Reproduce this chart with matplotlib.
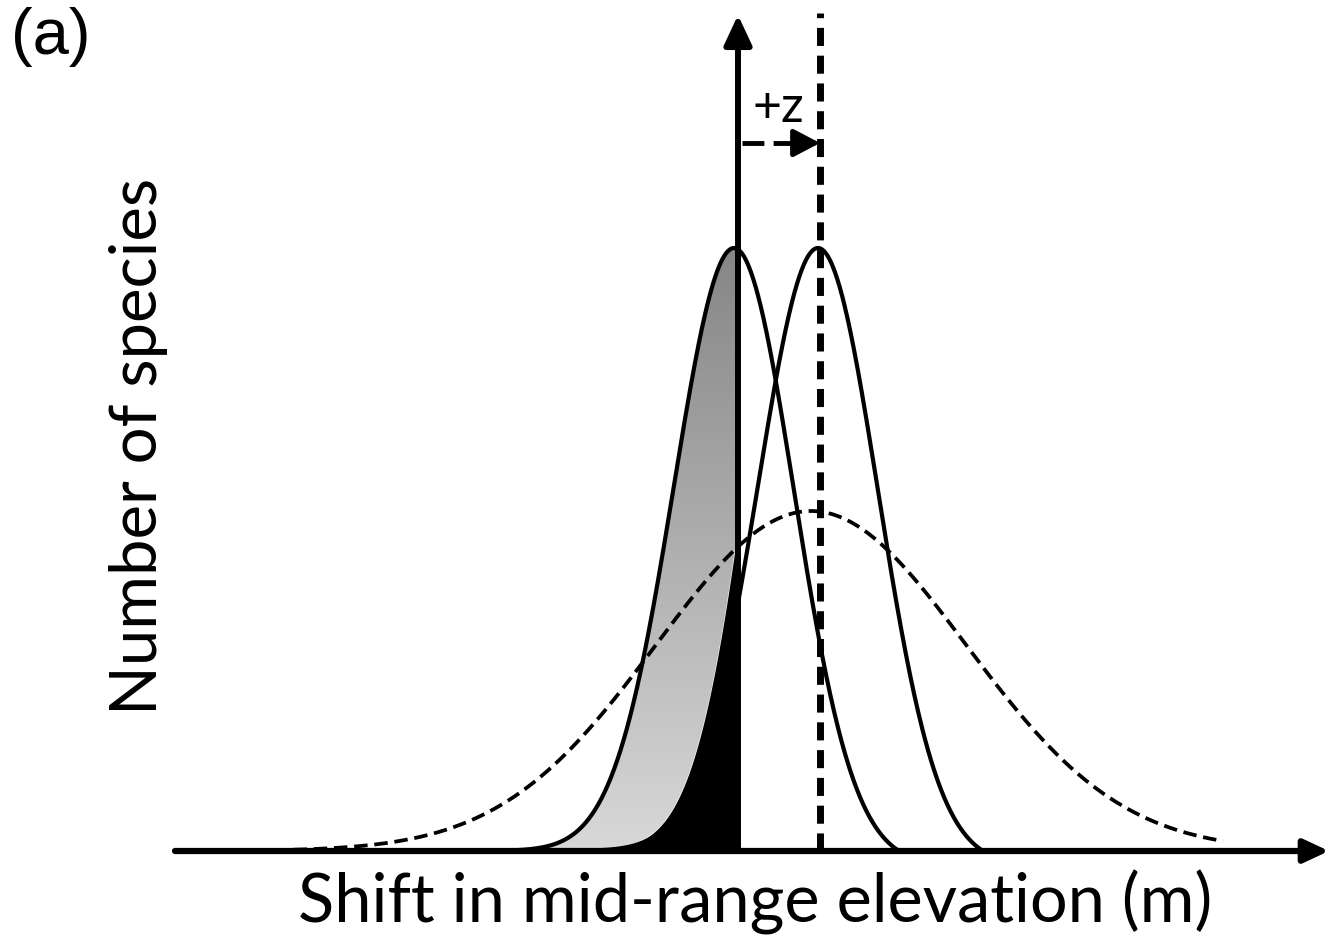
import numpy as np
import matplotlib
matplotlib.use('Agg')
import matplotlib.pyplot as plt
from matplotlib.patches import Polygon
from matplotlib.colors import LinearSegmentedColormap

# curve parameters (x = shift, 0 at the vertical axis; y = number of species)
obs_centres = [-4, 80]      # observed distribution and the one shifted by +z
obs_peak = 603
obs_sd = 60
obs_half_base = 165        # right-hand distance where the solid curves meet the axis
null_centre = 73           # broad dashed distribution
null_peak = 340
null_sd = 155
z_shift = 82               # position of the dashed vertical line

x_label = 'Shift in mid-range elevation (m)'
y_label = 'Number of species'


def bell(x, c, h, s):
    return h * np.exp(-(x - c) ** 2 / (2 * s ** 2))


def hump(x, c):
    # gaussian on the left, lowered on the right so it reaches zero at obs_half_base
    e = np.exp(-obs_half_base ** 2 / (2 * obs_sd ** 2))
    g = bell(x, c, 1.0, obs_sd)
    right = np.clip((g - e) / (1 - e), 0, None)
    return obs_peak * np.where(x < c, g, right)


fig = plt.figure(figsize=(13.29, 9.35), dpi=100)
ax = fig.add_axes([0, 0, 1, 1])

# black part: shifted curve scaled to meet the dashed curve at the axis
edge = -3
scale = bell(edge, null_centre, null_peak, null_sd) / bell(edge, obs_centres[1], obs_peak, obs_sd)
xl = np.linspace(-280, 0, 400)
top = hump(xl, obs_centres[0])
low = np.minimum(bell(xl, obs_centres[1], obs_peak * scale, obs_sd), top)

# grey gradient between observed curve and black part
verts = list(zip(xl, top)) + list(zip(xl[::-1], low[::-1]))
patch = Polygon(verts, closed=True, fc='none', ec='none')
ax.add_patch(patch)
grey = LinearSegmentedColormap.from_list('grey', ['#d8d8d8', '#868686'])
grad = np.linspace(0, 1, 256).reshape(-1, 1)
im = ax.imshow(grad, extent=[-280, 0, 0, obs_peak], cmap=grey, origin='lower',
               aspect='auto', zorder=1)
im.set_clip_path(patch)
ax.fill_between(xl, 0, low, color='black', lw=0, zorder=2)

# observed and shifted curves
for c in obs_centres:
    xs = np.linspace(c - 230, c + obs_half_base, 500)
    ax.plot(xs, hump(xs, c), color='black', lw=3, zorder=3)

# broad dashed curve
xs = np.linspace(-485, 485, 600)
ax.plot(xs, bell(xs, null_centre, null_peak, null_sd), color='black', lw=2.7,
        dashes=(3.6, 1.8), zorder=3)

# axes with arrows
ax.annotate('', xy=(591, 0), xytext=(-563, 0),
            arrowprops=dict(arrowstyle='-|>,head_length=0.75,head_width=0.35',
                            lw=4.5, color='black', mutation_scale=20,
                            shrinkA=0, shrinkB=0), zorder=4)
ax.annotate('', xy=(0, 836), xytext=(0, 0),
            arrowprops=dict(arrowstyle='-|>,head_length=0.9,head_width=0.42',
                            lw=4.3, color='black', mutation_scale=20,
                            shrinkA=0, shrinkB=0), zorder=4)

# dashed vertical line at +z
ax.plot([z_shift, z_shift], [0, 838], color='black', lw=5, dashes=(2.6, 1.4), zorder=4)

# +z arrow
ax.plot([4, 64], [708, 708], color='black', lw=3.5, dashes=(4.5, 1.9), zorder=4)
ax.annotate('', xy=(z_shift, 708), xytext=(62, 708),
            arrowprops=dict(arrowstyle='-|>,head_length=0.8,head_width=0.42',
                            lw=3.5, color='black', mutation_scale=20,
                            shrinkA=0, shrinkB=0), zorder=4)
ax.text(40, 729, '+z', fontsize=36, family='Lato', ha='center', va='baseline')

ax.set_xlim(-738, 591)
ax.set_ylim(-84, 851)
ax.axis('off')

fig.text(0.568, 0.0139, x_label, fontsize=48, family='Lato', ha='center', va='baseline')
fig.text(0.104, 0.523, y_label, fontsize=47, family='Lato', ha='center', va='center',
         rotation=90)
fig.text(0.008, 0.992, '(a)', fontsize=47, family='Liberation Sans', ha='left', va='top')

fig.savefig('out.png', dpi=100)
